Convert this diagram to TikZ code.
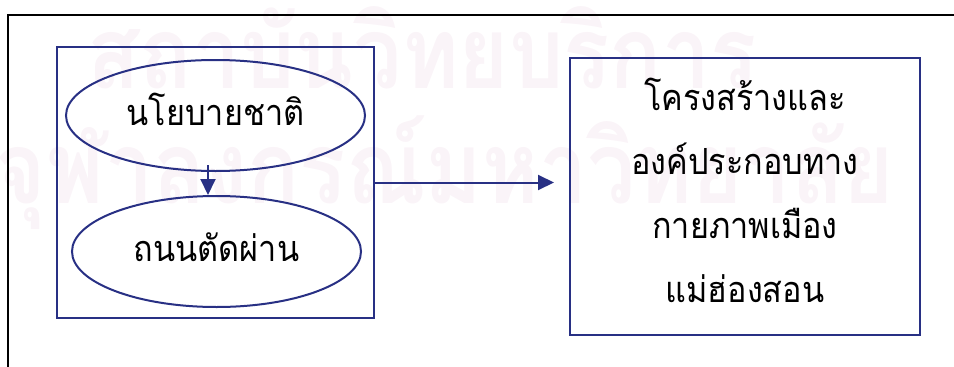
\documentclass[tikz,border=0pt]{standalone}
\usepackage{fontspec}
\usetikzlibrary{arrows.meta,shapes.geometric}
\newfontfamily\thaifont[Script=Thai,FakeStretch=0.9]{Loma}
\newfontfamily\wmfont[Script=Thai,FakeStretch=0.86]{Loma}
\definecolor{navy}{RGB}{40,48,132}
\definecolor{wmark}{RGB}{250,244,248}
\tikzset{
  frameline/.style={draw=black,line width=1.4pt},
  boxline/.style={draw=navy,line width=2pt},
  oval/.style={ellipse,boxline,inner sep=0pt,text height=20pt,text depth=0pt,font=\thaifont\fontsize{36}{40}\selectfont},
  arr/.style={draw=navy,line width=2pt,-{Triangle[length=16pt,width=15pt]}},
  rline/.style={anchor=base,inner sep=0pt,font=\thaifont\fontsize{36}{40}\selectfont},
  wm/.style={anchor=base,inner sep=0pt,text=wmark,font=\wmfont\bfseries\fontsize{100}{100}\selectfont}
}
\begin{document}
\begin{tikzpicture}[x=1pt,y=-1pt]
\useasboundingbox (0,0) rectangle (954,367);
% watermark
\node[wm] (w1) at (422,88) {สถาบันวิทยบริการ};
\node[wm] (w2) at (445,203) {จุฬาลงกรณ์มหาวิทยาลัย};
% outer frame
\draw[frameline] (954,15) -- (8,15) -- (8,367);
% left box
\node[boxline,rectangle,minimum width=317pt,minimum height=271pt,inner sep=0pt] (leftbox) at (215.5,182.5) {};
\node[oval,minimum width=299pt,minimum height=111pt] (e1) at (215.5,115.5) {นโยบายชาติ};
\node[oval,minimum width=289pt,minimum height=111pt] (e2) at (216.5,251.5) {ถนนตัดผ่าน};
\coordinate (a1) at (208,165);
\draw[arr] (a1) -- (a1 |- e2.north);
% right box
\node[boxline,rectangle,minimum width=350pt,minimum height=277pt,inner sep=0pt] (rightbox) at (745,196.5) {};
\node[rline] (r1) at (745,110) {โครงสร้างและ};
\node[rline] (r2) at (745,174) {องค์ประกอบทาง};
\node[rline] (r3) at (745,238) {กายภาพเมือง};
\node[rline] (r4) at (745,302) {แม่ฮ่องสอน};
% connector
\draw[arr,shorten >=15pt] (leftbox.east) -- (leftbox.east -| rightbox.west);
\end{tikzpicture}
\end{document}
